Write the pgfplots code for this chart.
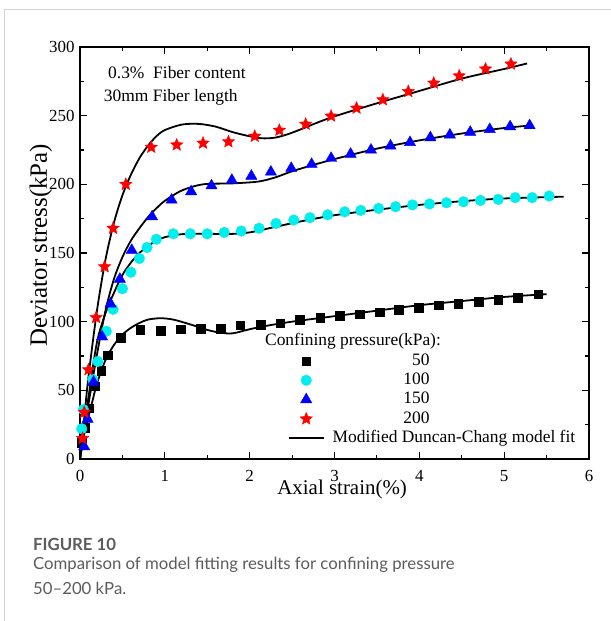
\documentclass[border=0pt]{standalone}
\usepackage{fontspec}
\setmainfont{Liberation Serif}
\newfontfamily\capfont{Lato}
\usepackage{pgfplots}
\pgfplotsset{compat=1.18}
\definecolor{capgray}{HTML}{5C5C5C}
\definecolor{framegray}{HTML}{D4D4D4}
\definecolor{cyanpt}{RGB}{0,238,238}

% filled five-point star
\pgfdeclareplotmark{fstar}{%
  \pgfpathmoveto{\pgfpointpolar{90}{\pgfplotmarksize}}%
  \pgfpathlineto{\pgfpointpolar{126}{0.45\pgfplotmarksize}}%
  \pgfpathlineto{\pgfpointpolar{162}{\pgfplotmarksize}}%
  \pgfpathlineto{\pgfpointpolar{198}{0.45\pgfplotmarksize}}%
  \pgfpathlineto{\pgfpointpolar{234}{\pgfplotmarksize}}%
  \pgfpathlineto{\pgfpointpolar{270}{0.45\pgfplotmarksize}}%
  \pgfpathlineto{\pgfpointpolar{306}{\pgfplotmarksize}}%
  \pgfpathlineto{\pgfpointpolar{342}{0.45\pgfplotmarksize}}%
  \pgfpathlineto{\pgfpointpolar{18}{\pgfplotmarksize}}%
  \pgfpathlineto{\pgfpointpolar{54}{0.45\pgfplotmarksize}}%
  \pgfpathclose
  \pgfusepathqfillstroke
}

\pgfplotsset{
  legimg/.style={legend image code/.code={%
    \draw[mark repeat=2,mark phase=2,##1] plot coordinates {(0bp,0bp) (17.5bp,0bp) (35bp,0bp)};}},
  fit/.style={black, line width=1.8bp, smooth, tension=0.5, no marks, forget plot},
}

\begin{document}
\begin{tikzpicture}
\useasboundingbox (0,0) rectangle (611bp,621bp);
\fill[white] (0,0) rectangle (611bp,621bp);
\draw[framegray, line width=1bp] (4bp,0) -- (4bp,611bp) -- (611bp,611bp);

\begin{axis}[
    at={(80bp,162bp)}, anchor=south west,
    scale only axis,
    width=509bp, height=412bp,
    xmin=0, xmax=6, ymin=0, ymax=300,
    xtick={0,1,...,6}, ytick={0,50,...,300},
    minor xtick={0.5,1.5,...,5.5}, minor ytick={25,75,...,275},
    major tick length=7bp, minor tick length=4bp,
    every tick/.style={black, line width=1.1bp},
    axis line style={line width=1.6bp},
    tick align=inside,
    /pgf/number format/assume math mode=true,
    tick label style={font=\fontsize{17}{17}\selectfont},
    xticklabel style={yshift=-8bp},
    yticklabel style={xshift=-2bp},
    xlabel={Axial strain(\%)},
    ylabel={Deviator stress(kPa)},
    xlabel style={at={(axis description cs:0.515,-0.075)}, anchor=center,
      font=\fontsize{21}{21}\selectfont},
    ylabel style={at={(axis description cs:-0.077,0.519)}, anchor=center,
      font=\fontsize{25}{25}\selectfont},
    legimg,
    legend style={at={(axis cs:2.45,77)}, anchor=north west, draw=none, fill=none,
      inner sep=0pt, outer sep=0pt, row sep=3.8bp, column sep=8bp,
      font=\fontsize{17.5}{17.5}\selectfont,
      nodes={inner sep=0pt, text height=12bp, text depth=3.5bp}},
    legend cell align=left,
    clip=false,
]

% model fits
\addplot[fit] coordinates {
  (0,0) (0.05,18) (0.1,31) (0.15,43) (0.2,55) (0.3,72) (0.4,83) (0.5,90.5)
  (0.6,95.5) (0.7,99) (0.8,101.5) (0.95,102.5) (1.1,101.5) (1.3,98)
  (1.5,94) (1.65,92) (1.8,91.5) (2.0,94.5) (2.2,97) (2.5,100) (3.0,104)
  (3.5,108) (4.0,112) (4.5,115) (5.0,118) (5.5,120)
};
\addplot[fit] coordinates {
  (0,0) (0.1,45) (0.2,85) (0.3,106) (0.4,121) (0.5,134) (0.6,143) (0.7,150)
  (0.8,155) (0.9,159) (1.0,161.5) (1.2,163.7) (1.5,164) (1.75,163.8)
  (2.0,165) (2.3,169) (2.6,173) (3.0,177.5) (3.5,181.5) (4.0,185)
  (4.5,187.7) (5.0,189.7) (5.7,191)
};
\addplot[fit] coordinates {
  (0,0) (0.1,40) (0.2,76) (0.3,108) (0.4,131) (0.5,147) (0.6,159) (0.7,168)
  (0.8,176) (0.9,182.5) (1.0,188) (1.2,195.5) (1.45,200) (1.8,200.7)
  (2.1,202) (2.3,205) (2.5,209.5) (2.8,215) (3.07,219.5) (3.5,226)
  (4.0,232) (4.5,237) (5.0,241) (5.34,243)
};
\addplot[fit] coordinates {
  (0,0) (0.05,30) (0.1,60) (0.2,108) (0.3,145) (0.4,172) (0.5,192) (0.6,207)
  (0.7,219) (0.8,228) (0.9,235) (1.0,239.5) (1.2,243.5) (1.4,244) (1.6,242)
  (1.8,238) (2.0,235) (2.15,233.5) (2.3,234) (2.45,236.5) (2.6,240)
  (2.8,245) (3.0,249.5) (3.5,259) (4.0,268) (4.5,277) (5.0,284) (5.27,288)
};

% test data
\addplot[only marks, mark=square*, mark size=4.3bp, black, legimg] coordinates {
  (0.02,12) (0.06,23) (0.11,37) (0.18,53) (0.25,64.5) (0.33,75.5) (0.48,88.5)
  (0.71,94) (0.95,93.5) (1.19,94.5) (1.42,95) (1.66,95) (1.89,97.3) (2.13,97.8)
  (2.36,99) (2.59,101.5) (2.83,103) (3.06,104.4) (3.30,105.5) (3.53,107)
  (3.76,108.5) (3.99,110) (4.23,112) (4.46,113) (4.70,114.5) (4.93,116)
  (5.16,117.5) (5.40,120)
};
\addlegendentry{\makebox[97bp][r]{50}}
\addplot[only marks, mark=*, mark size=5.3bp, cyanpt, legimg] coordinates {
  (0.02,22) (0.04,36) (0.15,58) (0.21,71) (0.31,93) (0.39,109) (0.5,124)
  (0.6,136) (0.7,146) (0.79,154) (0.9,160) (1.1,164) (1.3,164) (1.5,164)
  (1.7,165) (1.9,166) (2.11,168) (2.31,171.5) (2.52,174) (2.71,175.7)
  (2.92,177.8) (3.12,180) (3.31,181) (3.52,182.5) (3.72,183.7) (3.92,185)
  (4.12,185.7) (4.32,186.6) (4.52,187.3) (4.72,188.3) (4.93,189) (5.13,190.3)
  (5.33,190.3) (5.53,191.5)
};
\addlegendentry{\makebox[97bp][r]{100}}
\addplot[only marks, mark=triangle*, mark size=6.5bp, blue, legimg] coordinates {
  (0.05,9) (0.09,29) (0.16,56) (0.26,89) (0.36,113) (0.47,131) (0.61,152)
  (0.85,176.4) (1.08,188.6) (1.31,194.7) (1.55,199) (1.79,203) (2.02,206)
  (2.25,209) (2.49,211.7) (2.73,214.6) (2.96,219) (3.19,222) (3.43,225)
  (3.66,228) (3.89,230.5) (4.13,234) (4.36,236) (4.6,238) (4.83,240)
  (5.07,242) (5.3,242.8)
};
\addlegendentry{\makebox[97bp][r]{150}}
\addplot[only marks, mark=fstar, mark size=6.5bp, red, legimg] coordinates {
  (0.03,15) (0.05,34) (0.1,65) (0.19,103) (0.29,140) (0.39,168) (0.54,200)
  (0.84,227) (1.14,228.7) (1.45,230) (1.75,231) (2.06,235) (2.35,239.4)
  (2.66,243.8) (2.96,249.7) (3.26,255.5) (3.57,261.6) (3.87,267.6)
  (4.17,273.7) (4.47,279) (4.78,284) (5.08,287.6)
};
\addlegendentry{\makebox[97bp][r]{200}}
\addlegendimage{black, line width=1.8bp}
\addlegendentry{Modified Duncan-Chang model fit}

\node[anchor=west, inner sep=0pt, font=\fontsize{17.5}{17.5}\selectfont]
  at (axis cs:0.33,281.7) {0.3\%\ \ Fiber content};
\node[anchor=west, inner sep=0pt, font=\fontsize{17.5}{17.5}\selectfont]
  at (axis cs:0.28,263.5) {30mm Fiber length};
\node[anchor=west, inner sep=0pt, font=\fontsize{17.5}{17.5}\selectfont]
  at (axis cs:2.18,86) {Confining pressure(kPa):};
\end{axis}

\node[anchor=base west, inner sep=0pt, text=capgray,
  font=\capfont\bfseries\fontsize{16.8}{16.8}\selectfont] at (33bp,70bp) {FIGURE 10};
\node[anchor=base west, inner sep=0pt, text=capgray,
  font=\capfont\fontsize{16.8}{16.8}\selectfont] at (33bp,51bp)
  {Comparison of model fitting results for confining pressure};
\node[anchor=base west, inner sep=0pt, text=capgray,
  font=\capfont\fontsize{16.8}{16.8}\selectfont] at (33bp,27bp) {50–200 kPa.};
\end{tikzpicture}
\end{document}
